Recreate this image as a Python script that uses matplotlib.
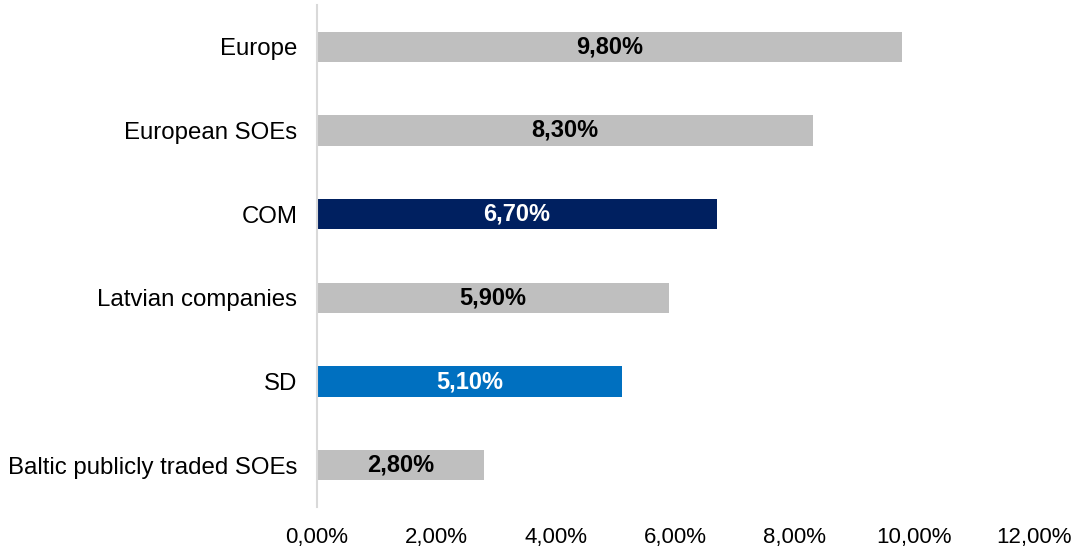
import matplotlib
matplotlib.use("Agg")
import matplotlib.pyplot as plt
from matplotlib.ticker import FuncFormatter, MultipleLocator

categories = ["Europe", "European SOEs", "COM", "Latvian companies", "SD",
              "Baltic publicly traded SOEs"]
values = [9.8, 8.3, 6.7, 5.9, 5.1, 2.8]
bar_colors = ["#BFBFBF", "#BFBFBF", "#002060", "#BFBFBF", "#0070C0", "#BFBFBF"]
label_colors = ["black", "black", "white", "black", "white", "black"]

plt.rcParams['font.family'] = ['Liberation Sans', 'DejaVu Sans']

fig = plt.figure(figsize=(10.78, 5.5), dpi=100)
ax = fig.add_axes([0.294, 0.078, 0.665, 0.913])

ypos = list(range(len(categories)))[::-1]
bars = ax.barh(ypos, values, height=0.36, color=bar_colors, zorder=2)

for y, v, c in zip(ypos, values, label_colors):
    ax.text(v / 2, y, f"{v:.2f}%".replace(".", ","), ha="center", va="center",
            fontsize=17, fontweight="bold", color=c, zorder=3)

ax.set_yticks(ypos)
ax.set_yticklabels(categories, fontsize=17.3)
ax.set_ylim(-0.5, 5.5)
ax.set_xlim(0, 12)
ax.xaxis.set_major_locator(MultipleLocator(2))
ax.xaxis.set_major_formatter(FuncFormatter(lambda x, p: f"{x:.2f}%".replace(".", ",")))
ax.tick_params(axis="x", labelsize=16, length=0, pad=14)
ax.tick_params(axis="y", length=0, pad=14)

for s in ["top", "right", "bottom"]:
    ax.spines[s].set_visible(False)
ax.spines["left"].set_color("#D9D9D9")
ax.spines["left"].set_linewidth(1.5)

fig.savefig("out.png", dpi=100)
